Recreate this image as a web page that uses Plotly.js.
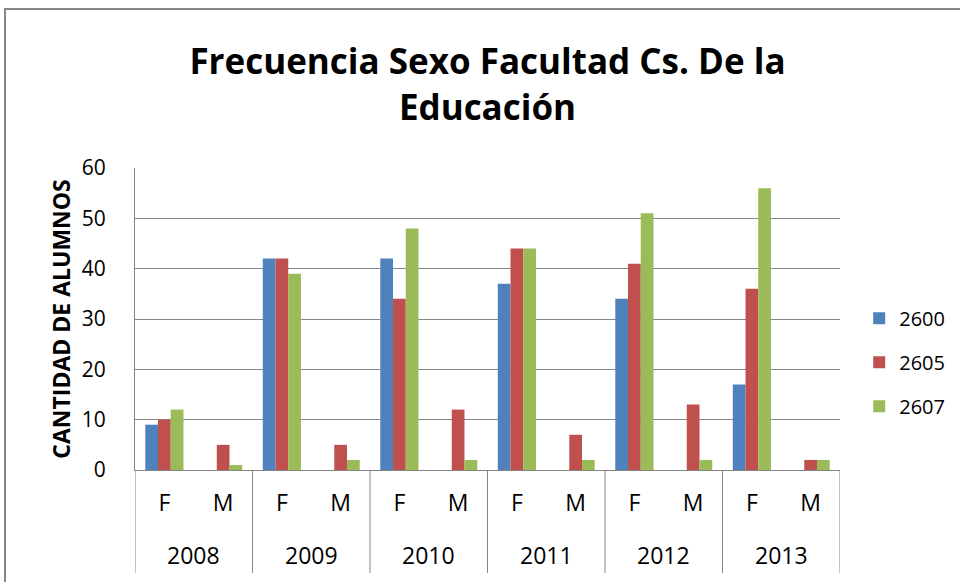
<!DOCTYPE html>
<html>
<head>
<meta charset="utf-8">
<script src="https://cdn.plot.ly/plotly-3.0.1.min.js"></script>
<style>html,body{margin:0;padding:0;background:#fff;}#chart{width:960px;height:582px;}</style>
</head>
<body>
<div id="chart"></div>
<script>
const years = ["2008","2008","2009","2009","2010","2010","2011","2011","2012","2012","2013","2013"];
const sexes = ["F","M","F","M","F","M","F","M","F","M","F","M"];
const s2600 = [9,0,42,0,42,0,37,0,34,0,17,0];
const s2605 = [10,5,42,5,34,12,44,7,41,13,36,2];
const s2607 = [12,1,39,2,48,2,44,2,51,2,56,2];
const seriesNames = ["2600","2605","2607"];
const seriesColors = ["#4F81BD","#C0504D","#9BBB59"];
const yTicks = [0,10,20,30,40,50,60];

const FONT = '"Open Sans", sans-serif';
const keys = years.map((y,i)=>y+' '+sexes[i]);
const vals = [s2600, s2605, s2607];
const data = vals.map((v,i)=>({
  type:'bar', name: seriesNames[i], legendgroup:'g'+i, x:keys, y:v,
  marker:{color: seriesColors[i], line:{width:0}}
}));

// year groups derived from the category arrays
const groups = [];
years.forEach((y,i)=>{
  const g = groups.find(o=>o.year===y);
  if (g) { g.last = i; } else { groups.push({year:y, first:i, last:i}); }
});
const annotations = groups.map(g=>({
  xref:'x', yref:'paper', x:(g.first+g.last)/2, y:-0.281, yanchor:'middle', xanchor:'center',
  text:g.year, showarrow:false, font:{family:FONT, size:23, color:'#000'}
}));
const shapes = [{type:'line', xref:'x', yref:'paper', x0:-0.5, x1:-0.5, y0:0, y1:-0.341, line:{color:'#868686', width:1}}]
  .concat(groups.map(g=>({type:'line', xref:'x', yref:'paper', x0:g.last+0.5, x1:g.last+0.5, y0:0, y1:-0.341, line:{color:'#868686', width:1}})));
shapes.push({type:'rect', xref:'paper', yref:'paper', x0:-0.1844, x1:1.3, y0:-0.45, y1:1.5265, line:{color:'#868686', width:2}});

const layout = {
  width:960, height:582,
  margin:{l:135, r:120, t:168, b:112},
  paper_bgcolor:'#fff', plot_bgcolor:'#fff',
  font:{family:FONT, color:'#000', size:20},
  title:{text:'<b>Frecuencia Sexo Facultad Cs. De la<br>Educación</b>', x:0.5, xref:'paper', xanchor:'center', y:0.872, yref:'container', yanchor:'top', font:{family:FONT, size:35, color:'#000'}},
  barmode:'group', bargap:0.35, bargroupgap:0,
  xaxis:{type:'category', tickvals:keys, ticktext:sexes, showline:true, linecolor:'#868686', linewidth:1, ticks:'', ticklabelstandoff:12, tickfont:{family:FONT, size:23, color:'#000'}, showgrid:false, range:[-0.5, keys.length-0.5]},
  yaxis:{range:[0,60], tickvals:yTicks, showline:true, linecolor:'#868686', linewidth:1, gridcolor:'#868686', gridwidth:1, zeroline:false, ticks:'', ticklabelstandoff:24, tickfont:{family:FONT, size:21, color:'#000'},
    title:{text:'<b>CANTIDAD DE ALUMNOS</b>', font:{family:FONT, size:23, color:'#000'}, standoff:4}},
  legend:{xref:'container', x:0.895, xanchor:'left', yref:'paper', y:0.357, yanchor:'middle', font:{family:FONT, size:20, color:'#000'}, tracegroupgap:15, itemwidth:30},
  annotations: annotations,
  shapes: shapes
};
Plotly.newPlot('chart', data, layout, {displayModeBar:false, staticPlot:true});
</script>
</body>
</html>
